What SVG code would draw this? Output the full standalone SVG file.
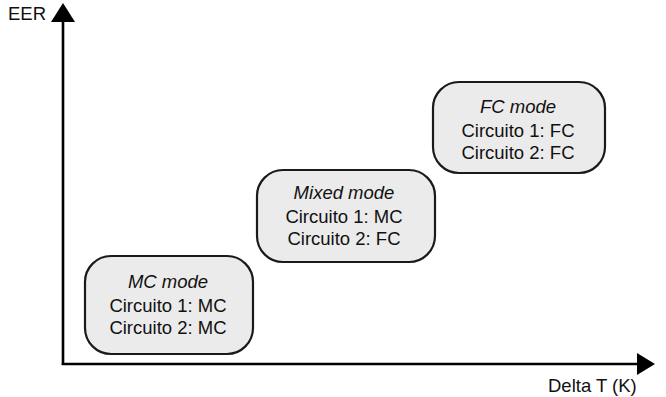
<svg xmlns="http://www.w3.org/2000/svg" width="666" height="397" viewBox="0 0 666 397">
<style>
.box{fill:#ebebeb;stroke:#1a1a1a;stroke-width:2.2}
.t{font-family:"Liberation Sans",Arial,sans-serif;font-size:18.5px;fill:#111;text-anchor:middle}
.i{font-style:italic}
.ax{stroke:#000;stroke-width:2.6;fill:none}
.lbl{font-family:"Liberation Sans",Arial,sans-serif;font-size:18.5px;fill:#111}
</style>
<rect width="666" height="397" fill="#fff"/>
<g id="axes">
<line class="ax" x1="63" y1="20" x2="63" y2="365"/>
<line class="ax" x1="61.7" y1="364" x2="640" y2="364"/>
<polygon points="63,3 51,22 75,22" fill="#000"/>
<polygon points="655,364 637,353 637,375" fill="#000"/>
<text class="lbl" x="8" y="20">EER</text>
<text class="lbl" x="548" y="392">Delta T (K)</text>
</g>
<g id="mc-mode">
<rect class="box" x="85" y="256" width="168" height="98" rx="26"/>
<text class="t i" x="168" y="288">MC mode</text>
<text class="t" x="168" y="312">Circuito 1: MC</text>
<text class="t" x="168" y="334">Circuito 2: MC</text>
</g>
<g id="mixed-mode">
<rect class="box" x="257" y="170" width="178" height="92" rx="26"/>
<text class="t i" x="344" y="199">Mixed mode</text>
<text class="t" x="344" y="223">Circuito 1: MC</text>
<text class="t" x="344" y="245">Circuito 2: FC</text>
</g>
<g id="fc-mode">
<rect class="box" x="433" y="82" width="172" height="91" rx="26"/>
<text class="t i" x="518" y="113">FC mode</text>
<text class="t" x="518" y="137">Circuito 1: FC</text>
<text class="t" x="518" y="159">Circuito 2: FC</text>
</g>
</svg>
